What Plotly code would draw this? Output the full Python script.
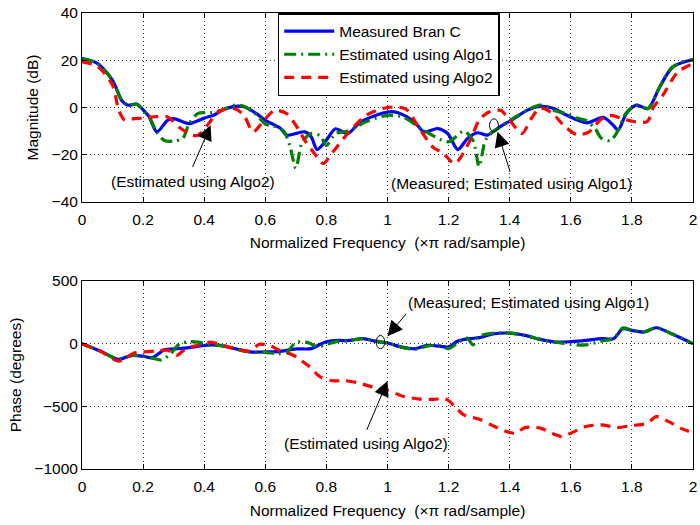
import plotly.graph_objects as go

# ---------------- data ----------------
f_mag_meas = [0, 0.05, 0.1, 0.13, 0.15, 0.18, 0.2, 0.22, 0.245, 0.28, 0.3, 0.35, 0.4, 0.43, 0.46,
              0.5, 0.53, 0.57, 0.6, 0.65, 0.67, 0.7, 0.73, 0.75, 0.77, 0.8, 0.83, 0.87, 0.912,
              1.0, 1.034, 1.088, 1.12, 1.164, 1.197, 1.23, 1.262, 1.295, 1.327, 1.36, 1.414,
              1.458, 1.5, 1.544, 1.587, 1.652, 1.706, 1.739, 1.755, 1.782, 1.815, 1.853, 1.891,
              1.934, 2.0]
mag_meas = [20.7, 18.7, 11.5, 3, 1, 1.4, -1, -4, -10.3, -5.4, -4.7, -6.8, -4.5, -3.3, -1.1,
            0.5, 0.3, -2.5, -5.4, -8.9, -11.7, -11, -10.3, -12.4, -17.8, -13.8, -9, -11, -6.1,
            -1.9, -2.2, -6.1, -10.3, -8.9, -11, -17.8, -13.1, -10.7, -11.7, -8.9, -4.7,
            -1.1, 0.5, -0.4, -3.3, -6.5, -4.2, -7.5, -9.6, -2.5, 1, -0.4, 8.7,
            17.2, 20.3]

f_mag_algo1 = [0, 0.05, 0.1, 0.13, 0.15, 0.18, 0.2, 0.22, 0.245, 0.27, 0.3, 0.33, 0.35, 0.38,
               0.42, 0.46, 0.5, 0.53, 0.57, 0.6, 0.63, 0.66, 0.68, 0.7, 0.72, 0.75, 0.78, 0.8,
               0.83, 0.87, 0.93, 1.0, 1.05, 1.1, 1.15, 1.2, 1.25, 1.28, 1.3, 1.32, 1.34, 1.36,
               1.41, 1.46, 1.5, 1.54, 1.58, 1.62, 1.65, 1.68, 1.7, 1.73, 1.755, 1.78, 1.815,
               1.853, 1.891, 1.934, 2.0]
mag_algo1 = [20.7, 18.7, 11.5, 3, 1, 1.4, -1, -4, -10.5, -14, -14.2, -13, -7, -2.5,
             -2.2, -1, 1, 0.5, -3, -7, -8, -10, -16, -25.7, -15, -11, -12, -16,
             -11, -10, -6, -3.3, -4, -8, -12, -14.5, -10, -14, -25, -14, -10.7, -9,
             -4.7, -1, 1, -1, -2.5, -4.5, -5.5, -9, -13, -14, -9.6, -2.5, 1,
             -0.4, 8.7, 17.2, 20.3]

f_mag_algo2 = [0, 0.05, 0.1, 0.12, 0.14, 0.17, 0.2, 0.23, 0.28, 0.32, 0.36, 0.38, 0.41, 0.45,
               0.5, 0.53, 0.56, 0.6, 0.63, 0.67, 0.7, 0.73, 0.77, 0.79, 0.82, 0.87, 0.93,
               1.0, 1.06, 1.1, 1.15, 1.18, 1.22, 1.27, 1.3, 1.33, 1.37, 1.4, 1.44, 1.47,
               1.5, 1.54, 1.58, 1.62, 1.66, 1.7, 1.73, 1.77, 1.8, 1.85, 1.87, 1.9, 1.95, 2.0]
mag_algo2 = [19.3, 17.5, 9.4, -1, -5.4, -4.7, -4.5, -4, -4, -8.6, -11.7, -11.7, -7.5, -1.5,
             -0.5, -3.3, -10.3, -4.8, -1.2, -2.6, -7.5, -14, -21, -23.7, -19, -11, -3.3,
             0, -0.7, -8, -17, -19, -23.7, -14, -5.4, -2, -1.2, -5.4, -11, -4.8,
             -0.2, -2.5, -8, -11.5, -10.3, -4.8, -3.3, -4.8, -5.8, -6, 0, 5, 15, 18.6]

f_ph_meas = [0, 0.06, 0.12, 0.16, 0.2, 0.23, 0.27, 0.3, 0.35, 0.4, 0.45, 0.5, 0.55, 0.6, 0.65,
             0.7, 0.75, 0.78, 0.8, 0.84, 0.87, 0.92, 0.96, 1.0, 1.05, 1.09, 1.13, 1.17, 1.2,
             1.23, 1.27, 1.3, 1.35, 1.4, 1.45, 1.5, 1.55, 1.6, 1.65, 1.7, 1.74, 1.77, 1.8,
             1.84, 1.88, 1.93, 2.0]
ph_meas = [0, -59, -125, -95, -100, -112, -48, -42, -32, -13, -13, -40, -66, -66, -61,
           -42, -40, -5, 15, 26, 24, 40, 20, 5, -30, -40, -13, -20, -26,
           21, 40, 48, 79, 84, 66, 34, 13, 16, 26, 40, 40, 119, 106,
           93, 127, 79, 0]

f_ph_algo1 = [0, 0.06, 0.12, 0.16, 0.2, 0.23, 0.26, 0.29, 0.32, 0.35, 0.38, 0.42, 0.45, 0.5,
              0.55, 0.6, 0.64, 0.67, 0.7, 0.74, 0.77, 0.8, 0.84, 0.87, 0.92, 0.96, 1.0, 1.05,
              1.09, 1.13, 1.17, 1.2, 1.23, 1.26, 1.28, 1.3, 1.35, 1.4, 1.45, 1.5, 1.55, 1.6,
              1.65, 1.7, 1.74, 1.77, 1.8, 1.84, 1.88, 1.93, 2.0]
ph_algo1 = [0, -59, -125, -95, -100, -115, -130, -80, 0, 15, 12, -10, -13, -40,
            -66, -70, -80, -70, 10, 8, -25, -5, 20, 24, 40, 20, 5, -30,
            -45, -20, -15, -40, 5, 45, -10, 60, 85, 84, 66, 34, 13, -5,
            -10, 20, 40, 125, 106, 93, 127, 79, 0]

f_ph_algo2 = [0, 0.06, 0.12, 0.14, 0.17, 0.2, 0.24, 0.28, 0.31, 0.34, 0.38, 0.42, 0.46, 0.5,
              0.55, 0.58, 0.62, 0.645, 0.69, 0.74, 0.78, 0.82, 0.86, 0.9, 0.95, 1.0, 1.05,
              1.1, 1.15, 1.19, 1.22, 1.25, 1.3, 1.35, 1.4, 1.42, 1.45, 1.5, 1.55, 1.57, 1.6,
              1.65, 1.7, 1.75, 1.8, 1.85, 1.88, 1.92, 1.96, 2.0]
ph_algo2 = [0, -60, -140, -120, -75, -66, -58, -53, -93, -40, -13, 13, -13, -40,
            -58, -5, -21, -53, -90, -175, -265, -296, -295, -310, -345, -370, -420,
            -440, -445, -440, -500, -569, -603, -661, -709, -714, -670, -674, -727, -741, -714,
            -661, -648, -669, -653, -635, -582, -622, -674, -714]

series_names = ["Measured Bran C", "Estimated using Algo1", "Estimated using Algo2"]
x_ticks = [0, 0.2, 0.4, 0.6, 0.8, 1, 1.2, 1.4, 1.6, 1.8, 2]
x_title = "Normalized Frequency  (\u00d7\u03c0 rad/sample)"

# ---------------- styling ----------------
FONT = "Liberation Sans, Arial, Helvetica, sans-serif"
FS = 15.5
styles = [dict(color="#0000ff", width=3.2, dash="solid"),
          dict(color="#008000", width=3.2, dash="12px,5px,2px,5px"),
          dict(color="#ff0000", width=3.2, dash="10px,7px")]

fig = go.Figure()
mag = [(f_mag_meas, mag_meas), (f_mag_algo1, mag_algo1), (f_mag_algo2, mag_algo2)]
ph = [(f_ph_meas, ph_meas), (f_ph_algo1, ph_algo1), (f_ph_algo2, ph_algo2)]
for i, (fx, fy) in enumerate(mag):
    fig.add_trace(go.Scatter(x=fx, y=fy, mode="lines", name=series_names[i],
                             line=dict(shape="spline", smoothing=0.8, **styles[i]),
                             xaxis="x", yaxis="y", showlegend=True))
for i, (fx, fy) in enumerate(ph):
    fig.add_trace(go.Scatter(x=fx, y=fy, mode="lines", name=series_names[i],
                             line=dict(shape="spline", smoothing=0.8, **styles[i]),
                             xaxis="x2", yaxis="y2", showlegend=False))

axis_common = dict(showline=True, linecolor="black", linewidth=1, mirror="ticks",
                   ticks="inside", ticklen=5, tickcolor="black",
                   showgrid=True, gridcolor="#333333", gridwidth=1, griddash="1px,3px",
                   zeroline=False, ticklabeloverflow="allow",
                   tickfont=dict(family=FONT, size=FS, color="black"))

top_dom = [(469 - 202) / 456, 1.0]
bot_dom = [0.0, (469 - 281) / 456]

fig.update_layout(
    width=700, height=525,
    margin=dict(l=82, r=3, t=13, b=56),
    paper_bgcolor="white", plot_bgcolor="white",
    font=dict(family=FONT, size=FS, color="black"),
    xaxis=dict(domain=[0, 1], range=[0, 2], anchor="y", tickvals=x_ticks,
               ticktext=[f"{v:g}" for v in x_ticks], ticklabelstandoff=3,
               title=dict(text=x_title, font=dict(family=FONT, size=FS), standoff=10),
               **axis_common),
    yaxis=dict(domain=top_dom, range=[-40, 40], anchor="x", tickvals=[-40, -20, 0, 20, 40],
               title=dict(text="Magnitude (dB)", font=dict(family=FONT, size=FS), standoff=9),
               **axis_common),
    xaxis2=dict(domain=[0, 1], range=[0, 2], anchor="y2", tickvals=x_ticks,
                ticktext=[f"{v:g}" for v in x_ticks], ticklabelstandoff=3,
                title=dict(text=x_title, font=dict(family=FONT, size=FS), standoff=11),
                **axis_common),
    yaxis2=dict(domain=bot_dom, range=[-1000, 500], anchor="x2", tickvals=[-1000, -500, 0, 500],
                title=dict(text="Phase (degrees)", font=dict(family=FONT, size=FS), standoff=8),
                **axis_common),
    legend=dict(x=(279 - 82) / 615, y=1.0, xanchor="left", yanchor="top",
                bgcolor="white", bordercolor="black", borderwidth=1.5,
                font=dict(family=FONT, size=FS, color="black"), itemwidth=50,
                tracegroupgap=0),
    showlegend=True,
)

# annotation texts
texts = [("x", "y", 0.364, -31.5, "(Estimated using Algo2)"),
         ("x", "y", 1.405, -32.1, "(Measured; Estimated using Algo1)"),
         ("x2", "y2", 1.463, 330, "(Measured; Estimated using Algo1)"),
         ("x2", "y2", 0.928, -794, "(Estimated using Algo2)")]
for xr, yr, xx, yy, t in texts:
    fig.add_annotation(x=xx, y=yy, xref=xr, yref=yr, text=t, showarrow=False,
                       font=dict(family=FONT, size=FS, color="black"))

# arrows: tip (x, y), tail (ax, ay)
arrows = [("x", "y", 0.421, -7.5, 0.360, -25.8),
          ("x", "y", 1.36, -10.3, 1.403, -27.9),
          ("x2", "y2", 1.0, 60, 1.065, 250),
          ("x2", "y2", 1.0, -298, 0.93, -700)]
for xr, yr, x1, y1, x0, y0 in arrows:
    fig.add_annotation(x=x1, y=y1, xref=xr, yref=yr, ax=x0, ay=y0, axref=xr, ayref=yr,
                       text="", showarrow=True, arrowhead=2, arrowsize=3, arrowwidth=1,
                       arrowcolor="black", standoff=0)

# small ellipses marking points
fig.add_shape(type="circle", xref="x", yref="y", x0=1.334, x1=1.363, y0=-10.3, y1=-4.8,
              line=dict(color="black", width=1))
fig.add_shape(type="circle", xref="x2", yref="y2", x0=0.963, x1=0.991, y0=-40, y1=66,
              line=dict(color="black", width=1))

fig.write_html("out.html")
